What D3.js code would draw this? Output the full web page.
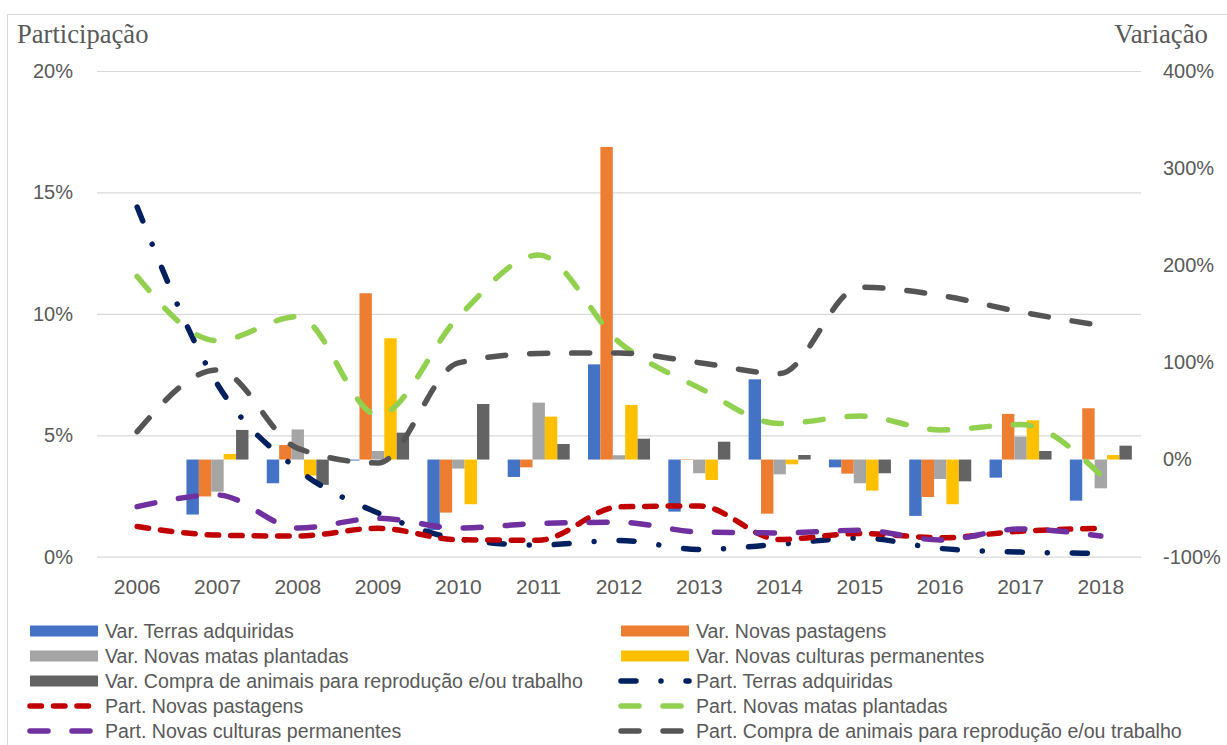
<!DOCTYPE html>
<html>
<head>
<meta charset="utf-8">
<script src="https://cdn.jsdelivr.net/npm/d3@7"></script>
<style>
  html, body { margin: 0; padding: 0; background: #fff; }
  svg { display: block; }
  text { fill: #595959; }
</style>
</head>
<body>
<svg id="chart" width="1227" height="745"></svg>
<script>
// Categories
const years = ["2006","2007","2008","2009","2010","2011","2012","2013","2014","2015","2016","2017","2018"];

// Variação (%) – bars on the right axis
const varTerras    = [null, -56.6, -24.4,  -1.0, -72.5, -17.9,  98.0, -53.6,  82.6,  -8.0, -58.0, -18.6, -42.3];
const varPastagens = [null, -38.0,  15.0, 171.2, -54.6,  -8.0, 321.8,  -0.5, -55.7, -14.5, -38.5,  47.0,  52.8];
const varMatas     = [null, -33.0,  31.0,   8.8,  -9.3,  58.6,   4.4, -14.1, -15.2, -24.4, -20.0,  23.6, -29.6];
const varCulturas  = [null,   5.8, -16.5, 124.9, -46.0,  44.2,  56.2, -21.0,  -4.9, -32.0, -46.0,  40.4,   4.7];
const varAnimais   = [null,  30.5, -26.0,  27.7,  57.2,  16.0,  21.5,  18.4,   4.7, -14.1, -22.4,   8.8,  14.3];

// Participação (%) – lines on the left axis
const partTerras    = [14.4, 7.1, 3.59, 1.8, 0.73, 0.48, 0.67, 0.30, 0.51, 0.77, 0.34, 0.19, 0.14];
const partPastagens = [1.24, 0.89, 0.85, 1.17, 0.70, 0.68, 2.05, 2.09, 0.71, 0.96, 0.78, 1.05, 1.17];
const partMatas     = [11.54, 8.9, 9.89, 5.83, 9.87, 12.42, 8.84, 6.95, 5.48, 5.79, 5.22, 5.44, 3.36];
const partCulturas  = [2.06, 2.54, 1.18, 1.58, 1.18, 1.37, 1.42, 1.02, 0.98, 1.09, 0.69, 1.14, 0.85];
const partAnimais   = [5.15, 7.69, 4.46, 3.86, 7.98, 8.37, 8.39, 7.99, 7.54, 11.10, 10.76, 10.08, 9.52];

// Axis ticks
const leftTicks  = [0, 5, 10, 15, 20];
const rightTicks = [-100, 0, 100, 200, 300, 400];

const barSeries = [
  { name: "Var. Terras adquiridas", values: varTerras, color: "#4472C4" },
  { name: "Var. Novas pastagens", values: varPastagens, color: "#ED7D31" },
  { name: "Var. Novas matas plantadas", values: varMatas, color: "#A5A5A5" },
  { name: "Var. Novas culturas permanentes", values: varCulturas, color: "#FFC000" },
  { name: "Var. Compra de animais para reprodução e/ou trabalho", values: varAnimais, color: "#636363" }
];

const lineSeries = [
  { name: "Part. Terras adquiridas", values: partTerras, color: "#002060", dash: "15,25,0.01,25" },
  { name: "Part. Novas pastagens", values: partPastagens, color: "#C00000", dash: "11.5,12" },
  { name: "Part. Novas matas plantadas", values: partMatas, color: "#92D050", dash: "18,24" },
  { name: "Part. Novas culturas permanentes", values: partCulturas, color: "#7030A0", dash: "18,24" },
  { name: "Part. Compra de animais para reprodução e/ou trabalho", values: partAnimais, color: "#555555", dash: "18,24" }
];

const svg = d3.select("#chart");
const sans = "'Liberation Sans', Arial, sans-serif";
const serif = "'Liberation Serif', 'Times New Roman', serif";

const plot = { left: 97, right: 1141, top: 71, bottom: 556.7 };

// Outer frame
svg.append("rect")
  .attr("x", 7.5).attr("y", 14.5)
  .attr("width", 1240).attr("height", 760)
  .attr("fill", "#fff").attr("stroke", "#D9D9D9").attr("stroke-width", 1);

const x = d3.scaleBand().domain(years).range([plot.left, plot.right]);
const yL = d3.scaleLinear().domain([0, 20]).range([plot.bottom, plot.top]);
const yR = d3.scaleLinear().domain([-100, 400]).range([plot.bottom, plot.top]);
const groupW = 62;
const x1 = d3.scaleBand().domain(barSeries.map(s => s.name))
  .range([(x.bandwidth() - groupW) / 2, (x.bandwidth() + groupW) / 2]);

// Gridlines
svg.append("g")
  .attr("transform", `translate(${plot.left},0)`)
  .call(d3.axisLeft(yL).tickValues(leftTicks).tickSize(-(plot.right - plot.left)).tickFormat(""))
  .call(g => g.select(".domain").remove())
  .call(g => g.selectAll("line").attr("stroke", "#D9D9D9").attr("stroke-width", 1.2));

// Left axis labels
svg.append("g")
  .attr("transform", `translate(${plot.left},0)`)
  .call(d3.axisLeft(yL).tickValues(leftTicks).tickSize(0).tickPadding(24).tickFormat(d => d + "%"))
  .call(g => g.select(".domain").remove())
  .call(g => g.selectAll("text").attr("font-family", sans).attr("font-size", 20).attr("fill", "#595959"));

// Right axis labels
svg.append("g")
  .attr("transform", `translate(${plot.right},0)`)
  .call(d3.axisRight(yR).tickValues(rightTicks).tickSize(0).tickPadding(22).tickFormat(d => d + "%"))
  .call(g => g.select(".domain").remove())
  .call(g => g.selectAll("text").attr("font-family", sans).attr("font-size", 20).attr("fill", "#595959"));

// Category axis
svg.append("g")
  .attr("transform", `translate(0,${plot.bottom})`)
  .call(d3.axisBottom(x).tickSize(0).tickPadding(22))
  .call(g => g.select(".domain").remove())
  .call(g => g.selectAll("text").attr("font-family", sans).attr("font-size", 21).attr("fill", "#595959"));

// Axis titles
svg.append("text").attr("x", 17).attr("y", 43)
  .attr("font-family", serif).attr("font-size", 26.6).text("Participação");
svg.append("text").attr("x", 1208).attr("y", 43).attr("text-anchor", "end")
  .attr("font-family", serif).attr("font-size", 26.8).text("Variação");

// Bars
barSeries.forEach(s => {
  svg.append("g").selectAll("rect")
    .data(years.map((yr, i) => ({ yr, v: s.values[i] })).filter(d => d.v !== null))
    .join("rect")
    .attr("x", d => x(d.yr) + x1(s.name))
    .attr("width", x1.bandwidth())
    .attr("y", d => yR(Math.max(0, d.v)))
    .attr("height", d => Math.abs(yR(d.v) - yR(0)))
    .attr("fill", s.color);
});

// Lines
const line = d3.line()
  .x((d, i) => x(years[i]) + x.bandwidth() / 2)
  .y(d => yL(d))
  .curve(d3.curveMonotoneX);

lineSeries.forEach(s => {
  svg.append("path")
    .attr("d", line(s.values))
    .attr("fill", "none")
    .attr("stroke", s.color)
    .attr("stroke-width", 5.5)
    .attr("stroke-linecap", "round")
    .attr("stroke-dasharray", s.dash);
});

// Legend (two columns, filled row by row)
const legendItems = [
  ...barSeries.map(s => ({ ...s, type: "bar" })),
  ...lineSeries.map(s => ({ ...s, type: "line" }))
];
const colX = [30, 621];
const rowY0 = 631, rowStep = 25;
legendItems.forEach((it, i) => {
  const cx = colX[i % 2];
  const cy = rowY0 + Math.floor(i / 2) * rowStep;
  const g = svg.append("g");
  if (it.type === "bar") {
    g.append("rect").attr("x", cx).attr("y", cy - 5.5)
      .attr("width", 68).attr("height", 11).attr("fill", it.color);
  } else {
    g.append("line").attr("x1", cx).attr("x2", cx + 68)
      .attr("y1", cy).attr("y2", cy)
      .attr("stroke", it.color).attr("stroke-width", 5.5)
      .attr("stroke-linecap", "round").attr("stroke-dasharray", it.dash);
  }
  g.append("text").attr("x", cx + 75).attr("y", cy + 7)
    .attr("font-family", sans).attr("font-size", 19.6).text(it.name);
});
</script>
</body>
</html>
